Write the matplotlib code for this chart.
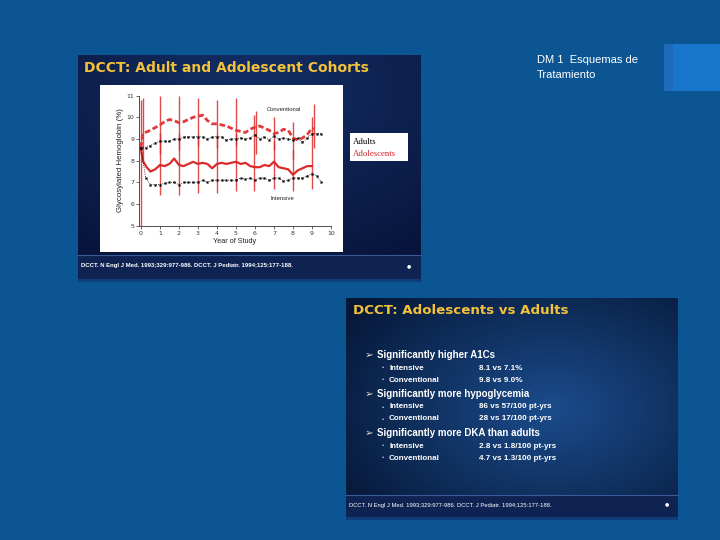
import numpy as np
import matplotlib
matplotlib.use("Agg")
import matplotlib.pyplot as plt
from matplotlib.patches import Rectangle
from matplotlib.colors import LinearSegmentedColormap

# ---------------- data ----------------
adult_t = [0, 0.25, 0.5, 0.75, 1.0, 1.25, 1.5, 1.75, 2.0, 2.25, 2.5, 2.75, 3.0, 3.25,
           3.5, 3.75, 4.0, 4.25, 4.5, 4.75, 5.0, 5.25, 5.5, 5.75, 6.0, 6.25, 6.5, 6.75,
           7.0, 7.25, 7.5, 7.75, 8.0, 8.25, 8.5, 8.75, 9.0, 9.25, 9.5]
adult_conv = [8.6, 8.6, 8.7, 8.8, 8.9, 8.9, 8.9, 9.0, 9.0, 9.1, 9.1, 9.1, 9.1, 9.1,
              9.0, 9.1, 9.1, 9.1, 8.95, 9.0, 9.0, 9.05, 9.0, 9.05, 9.2, 9.0, 9.1, 8.95,
              9.15, 9.0, 9.05, 9.0, 8.95, 9.05, 8.85, 9.05, 9.25, 9.25, 9.25]
adult_int = [8.6, 7.2, 6.9, 6.9, 6.9, 6.95, 7.0, 7.0, 6.9, 7.0, 7.0, 7.0, 7.0, 7.1,
             7.0, 7.1, 7.1, 7.1, 7.1, 7.1, 7.1, 7.2, 7.15, 7.2, 7.1, 7.2, 7.2, 7.1,
             7.2, 7.2, 7.05, 7.1, 7.2, 7.2, 7.2, 7.3, 7.4, 7.3, 7.0]

adol_conv_t = [0, 0.1, 0.5, 1.0, 1.25, 1.5, 1.75, 2.0, 2.25, 2.5, 2.75, 3.0, 3.25, 3.5,
               3.75, 4.0, 4.25, 4.5, 4.75, 5.0, 5.25, 5.5, 5.75, 6.0, 6.25, 6.5, 6.75,
               7.0, 7.25, 7.5, 7.75, 8.0, 8.25, 8.5, 8.75, 9.0, 9.1]
adol_conv = [8.6, 9.25, 9.4, 9.65, 9.8, 9.9, 9.85, 9.75, 9.8, 9.9, 10.0, 10.05, 10.1, 9.85,
             9.7, 9.7, 9.65, 9.6, 9.5, 9.4, 9.35, 9.3, 9.45, 9.55, 9.6, 9.5, 9.4,
             9.25, 9.3, 9.45, 9.4, 9.05, 8.95, 9.05, 9.2, 9.5, 9.45]

adol_int_t = [0, 0.1, 0.3, 0.5, 0.75, 1.0, 1.25, 1.5, 1.75, 2.0, 2.25, 2.5, 2.75, 3.0,
              3.25, 3.5, 3.75, 4.0, 4.25, 4.5, 4.75, 5.0, 5.25, 5.5, 5.75, 6.0, 6.25,
              6.5, 6.75, 7.0, 7.25, 7.5, 7.75, 8.0, 8.25, 8.5, 8.75, 9.0]
adol_int = [8.6, 8.0, 7.7, 7.5, 7.6, 7.8, 7.75, 7.85, 8.1, 7.8, 7.75, 7.85, 7.95, 7.85,
            7.9, 7.85, 7.65, 7.85, 7.9, 7.85, 7.9, 7.95, 7.85, 7.9, 7.75, 7.7, 7.7,
            7.8, 7.75, 7.95, 7.7, 7.65, 7.6, 7.35, 7.55, 7.65, 7.75, 7.75]

# red vertical range bars (adolescents)
bar_conv_x = [0.1, 1.0, 2.0, 3.0, 4.0, 5.0, 6.05, 7.0, 8.0, 9.1]
bar_conv_lo = [8.0, 8.3, 8.5, 8.7, 8.6, 8.7, 8.3, 8.5, 8.1, 8.6]
bar_conv_hi = [10.9, 11.0, 11.0, 10.9, 10.8, 10.9, 10.3, 10.0, 9.8, 10.6]
bar_int_x = [0.0, 1.0, 2.0, 3.0, 4.0, 5.0, 5.95, 7.0, 8.0, 9.0]
bar_int_lo = [5.0, 6.4, 6.4, 6.5, 6.5, 6.6, 6.6, 6.7, 6.6, 6.7]
bar_int_hi = [10.8, 9.3, 9.3, 9.2, 9.2, 9.3, 10.1, 8.9, 8.5, 10.0]

x_ticks = [0, 1, 2, 3, 4, 5, 6, 7, 8, 9, 10]
y_ticks = [5, 6, 7, 8, 9, 10, 11]

slide_title = ["DM 1  Esquemas de", "Tratamiento"]
img1_title = "DCCT: Adult and Adolescent Cohorts"
img2_title = "DCCT: Adolescents vs Adults"
citation = "DCCT. N Engl J Med. 1993;329:977-986. DCCT. J Pediatr. 1994;125:177-188."
bullet_heads = ["Significantly higher A1Cs", "Significantly more hypoglycemia",
                "Significantly more DKA than adults"]
bullet_items = [[("Intensive", "8.1 vs 7.1%"), ("Conventional", "9.8 vs 9.0%")],
                [("Intensive", "86 vs 57/100 pt-yrs"), ("Conventional", "28 vs 17/100 pt-yrs")],
                [("Intensive", "2.8 vs 1.8/100 pt-yrs"), ("Conventional", "4.7 vs 1.3/100 pt-yrs")]]

# ---------------- layout ----------------
W, H = 720, 540
fig = plt.figure(figsize=(7.2, 5.4), dpi=100)
fig.patch.set_facecolor("#0b5592")
bg = fig.add_axes([0, 0, 1, 1])
bg.set_xlim(0, W)
bg.set_ylim(H, 0)
bg.axis("off")
SANS = ["Liberation Sans", "DejaVu Sans"]
HEAD = ["DejaVu Sans"]
GOLD = "#f2c23a"

# top-right decoration
bg.add_patch(Rectangle((664, 44), 9, 47, color="#1d6cbb", lw=0))
bg.add_patch(Rectangle((673, 44), 47, 47, color="#1877cc", lw=0))
bg.text(537, 60, slide_title[0], color="white", fontsize=8, family=SANS, va="center")
bg.text(537, 75, slide_title[1], color="white", fontsize=8, family=SANS, va="center")

def gradient_panel(x0, y0, x1, y1, cx, cy, inner, outer, rad):
    ny, nx = 120, 160
    yy, xx = np.mgrid[0:1:ny * 1j, 0:1:nx * 1j]
    d = np.sqrt(((xx - cx) / rad) ** 2 + ((yy - cy) / rad) ** 2)
    d = np.clip(d, 0, 1)
    cmap = LinearSegmentedColormap.from_list("g", [inner, outer])
    bg.imshow(d, extent=(x0, x1, y1, y0), cmap=cmap, vmin=0, vmax=1,
              aspect="auto", interpolation="bilinear", zorder=1)

# ---- image 1 ----
gradient_panel(78, 55, 421, 282, 0.5, 0.15, "#142f66", "#07143a", 0.9)
bg.set_xlim(0, W); bg.set_ylim(H, 0)
bg.add_patch(Rectangle((78, 255), 343, 27, color="#0f2352", lw=0, zorder=2))
bg.plot([78, 421], [255, 255], color="#3a5a9a", lw=0.8, zorder=3)
bg.add_patch(Rectangle((78, 279), 343, 3, color="#0f3d7a", lw=0, zorder=3))
bg.text(84, 68, img1_title, color=GOLD, fontsize=10, fontweight="bold",
        family=HEAD, va="center", zorder=4)
bg.text(81, 266, citation, color="white", fontsize=4.3, family=SANS,
        fontweight="bold", va="center", zorder=4)
bg.text(409, 266, "\u25cf", color="white", fontsize=3.5, ha="center", va="center", zorder=4)
bg.add_patch(Rectangle((100, 85), 243, 167, color="white", lw=0, zorder=2))
# legend box
bg.add_patch(Rectangle((350, 133), 58, 28, color="white", lw=0, zorder=2))
SERIF = ["Liberation Serif", "DejaVu Serif"]
bg.text(353, 142, "Adults", color="black", fontsize=6.3, family=SERIF, va="center", zorder=4)
bg.text(353, 154, "Adolescents", color="#d0202a", fontsize=6.3, family=SERIF, va="center", zorder=4)

# ---- image 2 ----
gradient_panel(346, 298, 678, 520, 0.62, 0.5, "#1b4c8c", "#061838", 0.75)
bg.set_xlim(0, W); bg.set_ylim(H, 0)
bg.add_patch(Rectangle((346, 495), 332, 25, color="#0f2352", lw=0, zorder=2))
bg.plot([346, 678], [495, 495], color="#3a5a9a", lw=0.8, zorder=3)
bg.add_patch(Rectangle((346, 517), 332, 3, color="#0f3d7a", lw=0, zorder=3))
bg.text(353, 311, img2_title, color=GOLD, fontsize=9.6, fontweight="bold",
        family=HEAD, va="center", zorder=4)
bg.text(349, 505, citation, color="white", fontsize=4.2, family=SANS,
        va="center", zorder=4)
bg.text(667, 504, "\u25cf", color="white", fontsize=3.5, ha="center", va="center", zorder=4)

head_y = [355, 394, 433]
for hy, head, items in zip(head_y, bullet_heads, bullet_items):
    bg.text(365, hy, "\u27a2", color="#e0e0c8", fontsize=7.5, family=["DejaVu Sans"],
            va="center", zorder=4)
    bg.text(377, hy, head, color="white", fontsize=7, fontweight="bold",
            family=SANS, va="center", zorder=4)
    for k, (lab, val) in enumerate(items):
        yy = hy + 13 + k * 12
        bg.text(382, yy, "\u2022", color="#c8c8c8", fontsize=4.5, family=SANS,
                va="center", zorder=4)
        bg.text(389, yy, lab, color="white", fontsize=5.8, fontweight="bold",
                family=SANS, va="center", zorder=4)
        bg.text(479, yy, val, color="white", fontsize=5.9, fontweight="bold",
                family=SANS, va="center", zorder=4)

# ---------------- chart ----------------
ax = fig.add_axes([139 / W, (H - 225.7) / H, (331 - 139) / W, (225.7 - 93.5) / H])
ax.set_facecolor("none")
ax.set_xlim(-0.1, 10)
ax.set_ylim(5, 11.1)
for s in ["top", "right"]:
    ax.spines[s].set_visible(False)
for s in ["left", "bottom"]:
    ax.spines[s].set_linewidth(0.6)
    ax.spines[s].set_color("#333333")
ax.spines["left"].set_bounds(5, 11)
ax.set_xticks(x_ticks)
ax.set_yticks(y_ticks)
ax.tick_params(labelsize=4.5, length=2, width=0.5, pad=1.5, colors="#333333")
ax.set_xlabel("Year of Study", fontsize=5.2, labelpad=1.5, color="#222222", family=SANS)
ax.set_ylabel("Glycosylated Hemoglobin (%)", fontsize=5.7, labelpad=2, color="#222222",
              family=SANS)

RED = "#dc2a2a"
ax.vlines(bar_conv_x, bar_conv_lo, bar_conv_hi, color=RED, lw=1.0, alpha=0.85, zorder=2)
ax.vlines(bar_int_x, bar_int_lo, bar_int_hi, color=RED, lw=1.0, alpha=0.85, zorder=2)
ax.plot(adol_conv_t, adol_conv, color="#e03a3a", lw=2.0, ls=(0, (2.0, 1.0)), zorder=3)
ax.plot(adol_int_t, adol_int, color=RED, lw=1.6, zorder=3)
ax.plot(adult_t, adult_conv, color="black", lw=0.6, ls=":", marker="s", ms=1.3,
        mew=0.2, zorder=4)
ax.plot(adult_t, adult_int, color="black", lw=0.6, ls=":", marker="s", ms=1.3,
        mew=0.2, zorder=4)
ax.text(7.5, 10.34, "Conventional", fontsize=4.2, ha="center", va="center",
        color="#222222", family=SANS)
ax.text(7.45, 6.26, "Intensive", fontsize=4.2, ha="center", va="center",
        color="#222222", family=SANS)

fig.savefig("out.png", dpi=100, facecolor=fig.get_facecolor())
